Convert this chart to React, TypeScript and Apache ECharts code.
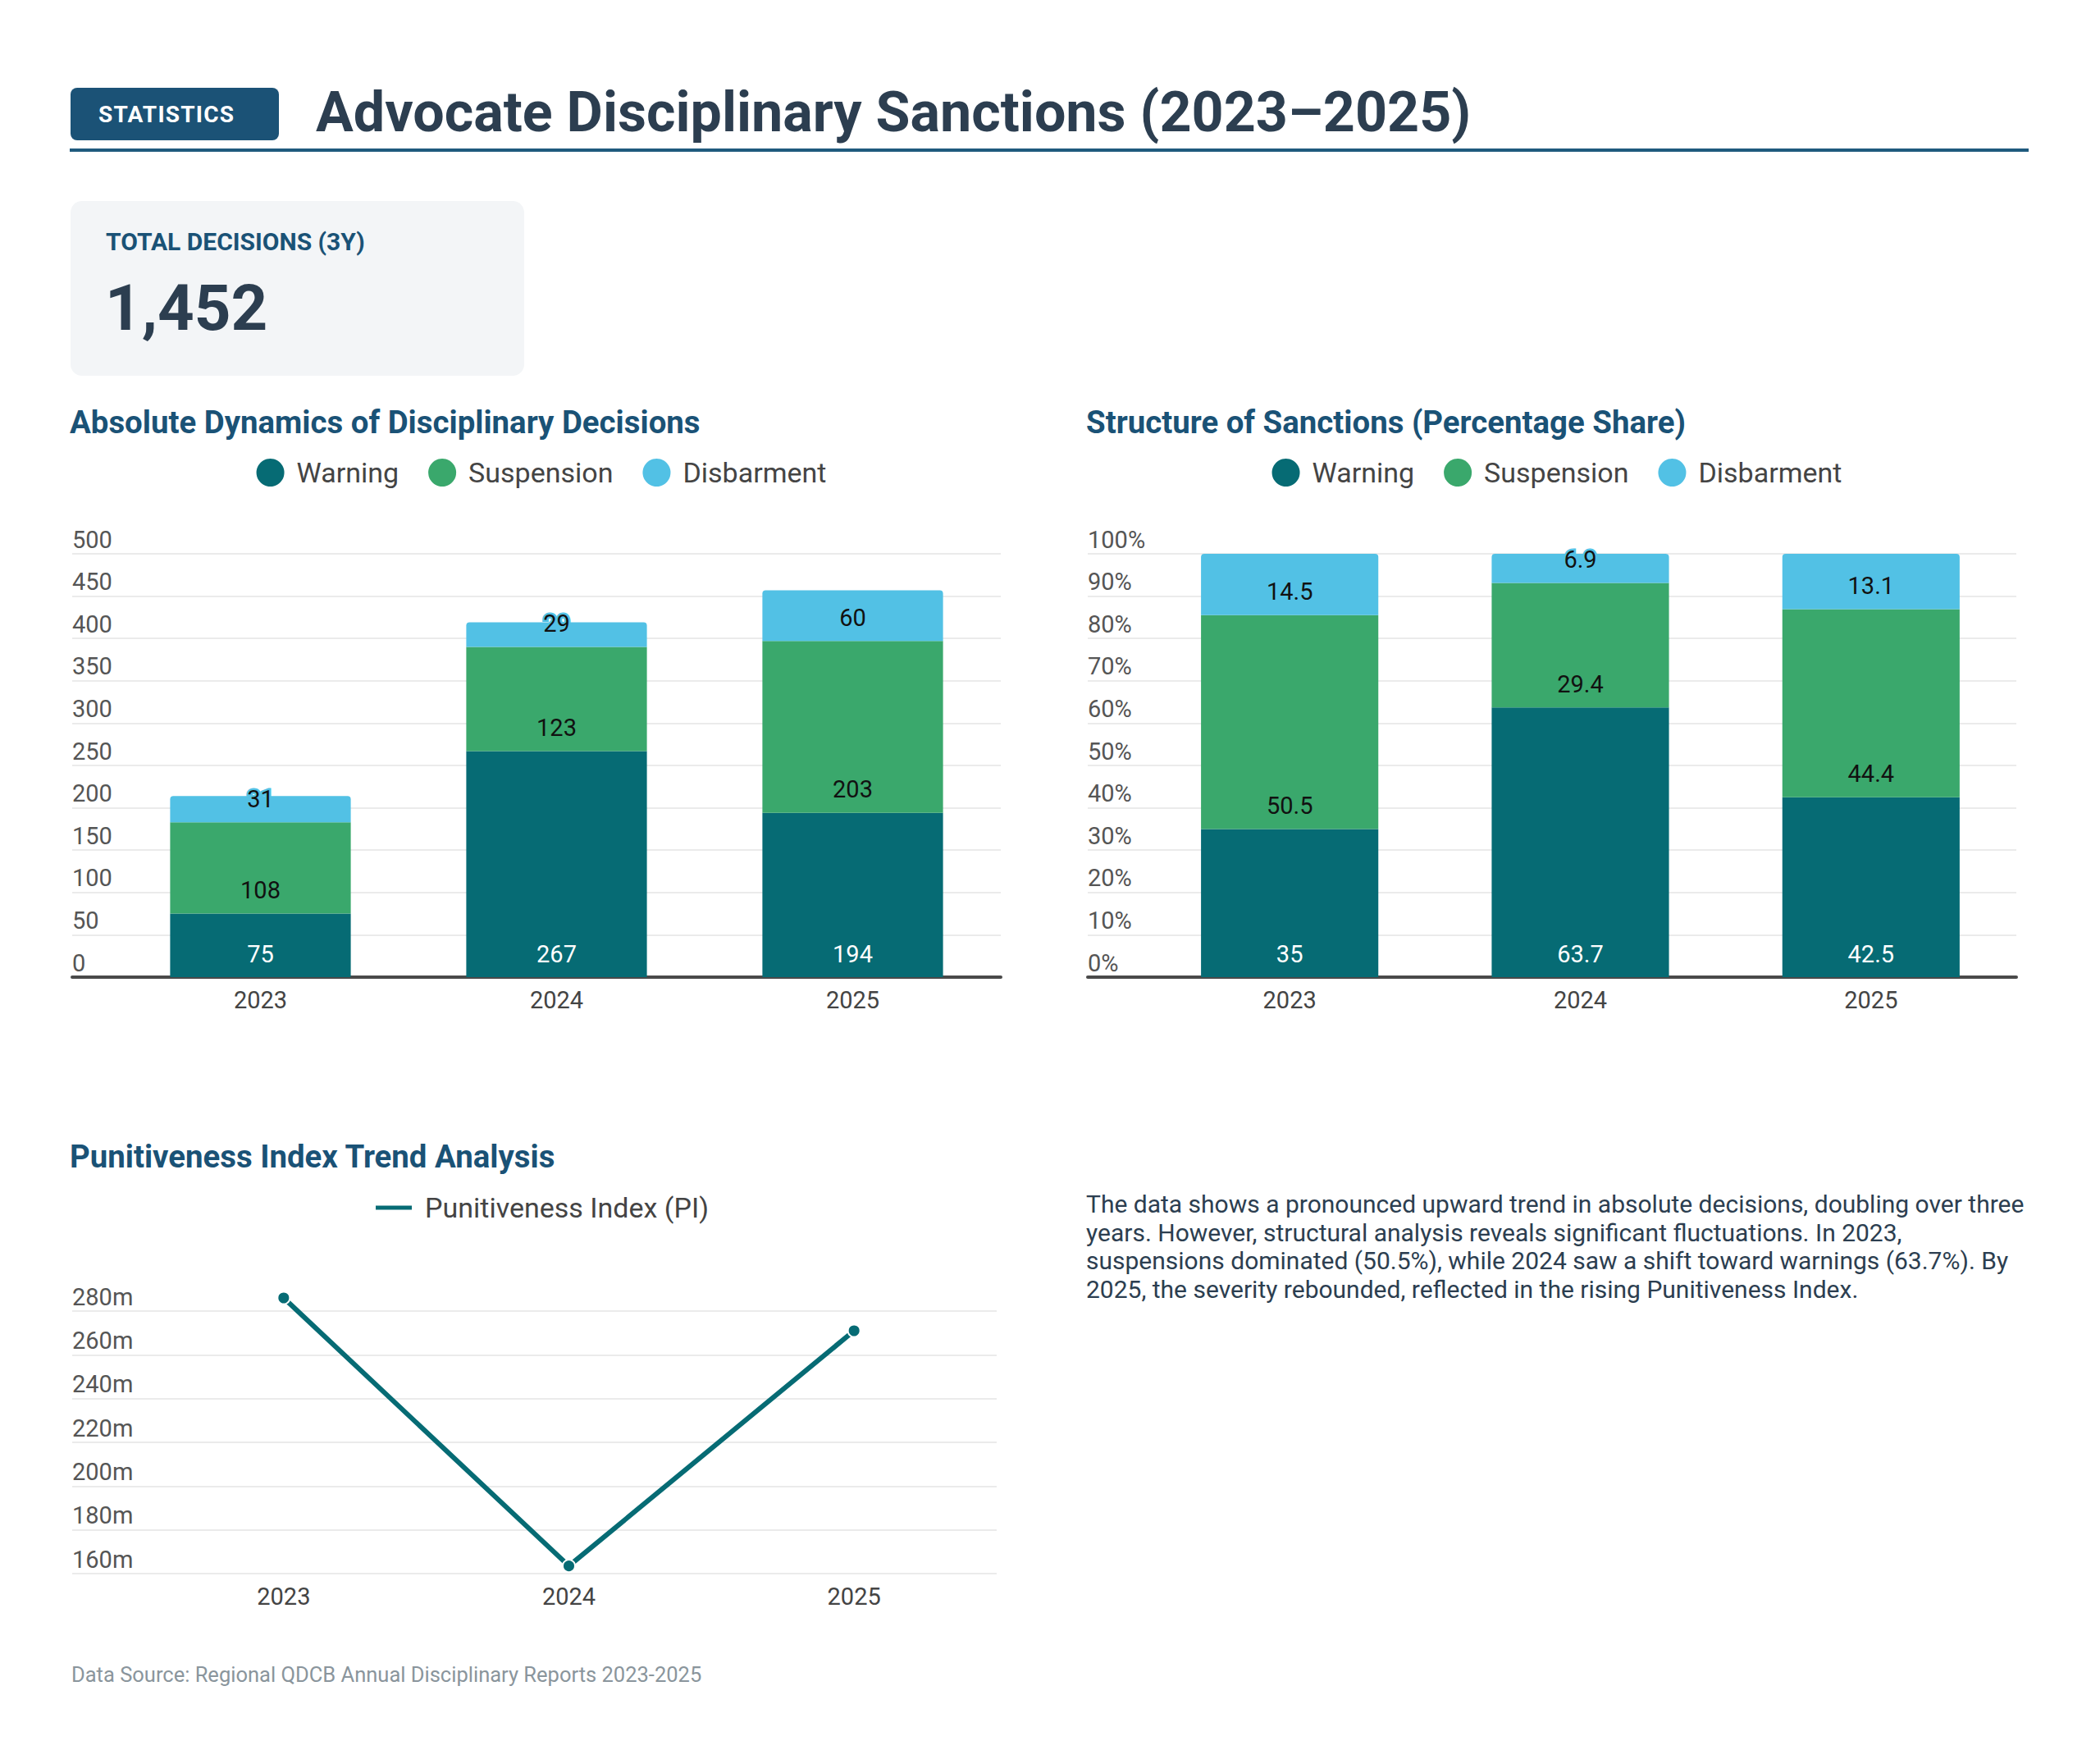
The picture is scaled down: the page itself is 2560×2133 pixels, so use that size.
import React, { useEffect, useRef } from 'react';
import * as echarts from 'echarts';

// ---------- data ----------
const years = ['2023', '2024', '2025'];
const sanctionNames = ['Warning', 'Suspension', 'Disbarment'];
const warningCounts = [75, 267, 194];
const suspensionCounts = [108, 123, 203];
const disbarmentCounts = [31, 29, 60];
const warningShare = [35, 63.7, 42.5];
const suspensionShare = [50.5, 29.4, 44.4];
const disbarmentShare = [14.5, 6.9, 13.1];
const indexName = 'Punitiveness Index (PI)';
const punitivenessIndex = [0.286, 0.1635, 0.271];
const countAxis = { min: 0, max: 500, interval: 50 };
const shareAxis = { min: 0, max: 100, interval: 10 };
const indexAxis = { min: 0.16, max: 0.28, interval: 0.02 };
const totalDecisions = '1,452';

// ---------- style ----------
const COLORS = ['#066b74', '#3aa86c', '#52c1e5'];
const FONT = 'Roboto, "Noto Sans", "DejaVu Sans", sans-serif';
const AXIS_FS = 29;
const LEGEND_FS = 34;

function stackedBarOption(values: number[][], axis: any, fmt: any, offset: number) {
  const top = 135;
  const bottom = 69;
  const right = 15;
  return {
    animation: false,
    textStyle: { fontFamily: FONT },
    color: COLORS,
    legend: {
      top: 14,
      left: 'center',
      icon: 'circle',
      itemWidth: 34,
      itemHeight: 34,
      itemGap: 36,
      data: sanctionNames,
      textStyle: { fontSize: LEGEND_FS, color: '#444', fontFamily: FONT, padding: [0, 0, 0, 10] },
    },
    grid: [
      { left: 0, right, top, bottom },
      { left: offset, right, top, bottom },
    ],
    xAxis: [
      {
        gridIndex: 0,
        type: 'value',
        min: 0,
        max: 1,
        axisLine: { show: true, onZero: false, lineStyle: { color: '#4a4a4a', width: 4 } },
        axisTick: { show: false },
        axisLabel: { show: false },
        splitLine: { show: false },
      },
      {
        gridIndex: 1,
        type: 'category',
        data: years,
        axisLine: { show: false },
        axisTick: { show: false },
        axisLabel: { fontSize: AXIS_FS, color: '#444', margin: 13, fontFamily: FONT },
      },
    ],
    yAxis: [
      {
        gridIndex: 0,
        type: 'value',
        ...axis,
        axisLabel: {
          inside: true,
          margin: 0,
          verticalAlign: 'bottom',
          padding: [0, 0, 3, 0],
          fontSize: AXIS_FS,
          color: '#555',
          fontFamily: FONT,
          formatter: fmt,
        },
        splitLine: { show: true, lineStyle: { color: '#ebebeb', width: 2 } },
        axisLine: { show: false },
        axisTick: { show: false },
      },
      { gridIndex: 1, type: 'value', ...axis, show: false },
    ],
    series: values.map((data, i) => ({
      name: sanctionNames[i],
      type: 'bar',
      stack: 'total',
      xAxisIndex: 1,
      yAxisIndex: 1,
      data,
      barWidth: '61%',
      itemStyle: { color: COLORS[i], borderRadius: i === 2 ? [4, 4, 0, 0] : 0 },
      label: {
        show: true,
        position: 'insideBottom',
        distance: 14,
        fontSize: AXIS_FS,
        fontFamily: FONT,
        color: i === 0 ? '#ffffff' : '#111111',
        textBorderColor: COLORS[i],
        textBorderWidth: 5,
      },
    })),
  };
}

const countOption = stackedBarOption(
  [warningCounts, suspensionCounts, disbarmentCounts],
  countAxis,
  '{value}',
  52
);
const shareOption = stackedBarOption(
  [warningShare, suspensionShare, disbarmentShare],
  shareAxis,
  '{value}%',
  72
);

const indexOption = {
  animation: false,
  textStyle: { fontFamily: FONT },
  legend: {
    top: 10,
    left: 'center',
    itemWidth: 46,
    itemHeight: 7,
    data: [{ name: indexName, icon: 'rect' }],
    textStyle: { fontSize: LEGEND_FS, color: '#444', fontFamily: FONT, padding: [0, 0, 0, 10] },
  },
  grid: [
    { left: 0, right: 20, top: 158, bottom: 82 },
    { left: 87, right: 20, top: 158, bottom: 82 },
  ],
  xAxis: [
    { gridIndex: 0, type: 'value', min: 0, max: 1, show: false },
    {
      gridIndex: 1,
      type: 'category',
      data: years,
      axisLine: { show: false },
      axisTick: { show: false },
      axisLabel: { fontSize: AXIS_FS, color: '#444', margin: 13, fontFamily: FONT },
    },
  ],
  yAxis: [
    {
      gridIndex: 0,
      type: 'value',
      ...indexAxis,
      axisLabel: {
        inside: true,
        margin: 0,
        verticalAlign: 'bottom',
        padding: [0, 0, 3, 0],
        fontSize: AXIS_FS,
        color: '#555',
        fontFamily: FONT,
        formatter: (v: number) => Math.round(v * 1000) + 'm',
      },
      splitLine: { show: true, lineStyle: { color: '#ebebeb', width: 2 } },
      axisLine: { show: false },
      axisTick: { show: false },
    },
    { gridIndex: 1, type: 'value', ...indexAxis, show: false },
  ],
  series: [
    {
      name: indexName,
      type: 'line',
      xAxisIndex: 1,
      yAxisIndex: 1,
      data: punitivenessIndex,
      clip: false,
      symbol: 'circle',
      symbolSize: 15,
      lineStyle: { width: 6, color: COLORS[0] },
      itemStyle: { color: COLORS[0], borderColor: '#ffffff', borderWidth: 2 },
    },
  ],
};

function EChart({ option, style }: { option: any; style: React.CSSProperties }) {
  const ref = useRef<HTMLDivElement>(null);
  useEffect(() => {
    if (!ref.current) return;
    const chart = echarts.init(ref.current, null, { renderer: 'svg' });
    chart.setOption(option);
    return () => chart.dispose();
  }, [option]);
  return <div ref={ref} style={style} />;
}

const abs = (left: number, top: number, extra: React.CSSProperties = {}): React.CSSProperties => ({
  position: 'absolute',
  left,
  top,
  ...extra,
});

export default function App() {
  const sectionTitle: React.CSSProperties = {
    fontSize: 38.4,
    lineHeight: '38.4px',
    fontWeight: 700,
    color: '#1a5276',
    whiteSpace: 'nowrap',
    margin: 0,
  };
  return (
    <div
      style={{
        position: 'absolute',
        left: 0,
        top: 0,
        width: 2560,
        height: 2133,
        background: '#ffffff',
        fontFamily: FONT,
        overflow: 'hidden',
      }}
    >
      <div
        style={abs(86, 107, {
          width: 254,
          height: 64,
          boxSizing: 'border-box',
          paddingLeft: 34,
          background: '#1b5276',
          borderRadius: 8,
          color: '#ffffff',
          fontSize: 28,
          fontWeight: 700,
          letterSpacing: 1.2,
          display: 'flex',
          alignItems: 'center',
          justifyContent: 'flex-start',
        })}
      >
        STATISTICS
      </div>
      <div
        style={abs(385, 103, {
          fontSize: 68.2,
          lineHeight: '68.2px',
          fontWeight: 700,
          color: '#2c3e50',
          whiteSpace: 'nowrap',
        })}
      >
        Advocate Disciplinary Sanctions (2023–2025)
      </div>
      <div style={abs(85, 181, { width: 2388, height: 4, background: '#1f5a7e' })} />

      <div
        style={abs(86, 245, {
          width: 553,
          height: 213,
          background: '#f3f5f7',
          borderRadius: 14,
        })}
      />
      <div
        style={abs(129, 280, {
          fontSize: 30,
          lineHeight: '30px',
          fontWeight: 700,
          color: '#1a5276',
          whiteSpace: 'nowrap',
        })}
      >
        TOTAL DECISIONS (3Y)
      </div>
      <div
        style={abs(128, 337, {
          fontSize: 78,
          lineHeight: '78px',
          fontWeight: 700,
          color: '#2c3e50',
        })}
      >
        {totalDecisions}
      </div>

      <div style={abs(85, 496, sectionTitle)}>Absolute Dynamics of Disciplinary Decisions</div>
      <div style={abs(1324, 496, sectionTitle)}>Structure of Sanctions (Percentage Share)</div>
      <EChart option={countOption} style={abs(85, 540, { width: 1150, height: 720 })} />
      <EChart option={shareOption} style={abs(1323, 540, { width: 1150, height: 720 })} />

      <div style={abs(85, 1391, sectionTitle)}>Punitiveness Index Trend Analysis</div>
      <EChart option={indexOption} style={abs(85, 1440, { width: 1150, height: 560 })} />

      <div
        style={abs(1324, 1451, {
          width: 1160,
          fontSize: 30,
          lineHeight: '34.5px',
          color: '#2c3e50',
        })}
      >
        The data shows a pronounced upward trend in absolute decisions, doubling over three years.
        However, structural analysis reveals significant fluctuations. In 2023, suspensions dominated
        (50.5%), while 2024 saw a shift toward warnings (63.7%). By 2025, the severity rebounded,
        reflected in the rising Punitiveness Index.
      </div>

      <div
        style={abs(87, 2029, {
          fontSize: 25.5,
          lineHeight: '25.5px',
          color: '#8a959c',
          whiteSpace: 'nowrap',
        })}
      >
        Data Source: Regional QDCB Annual Disciplinary Reports 2023-2025
      </div>
    </div>
  );
}
